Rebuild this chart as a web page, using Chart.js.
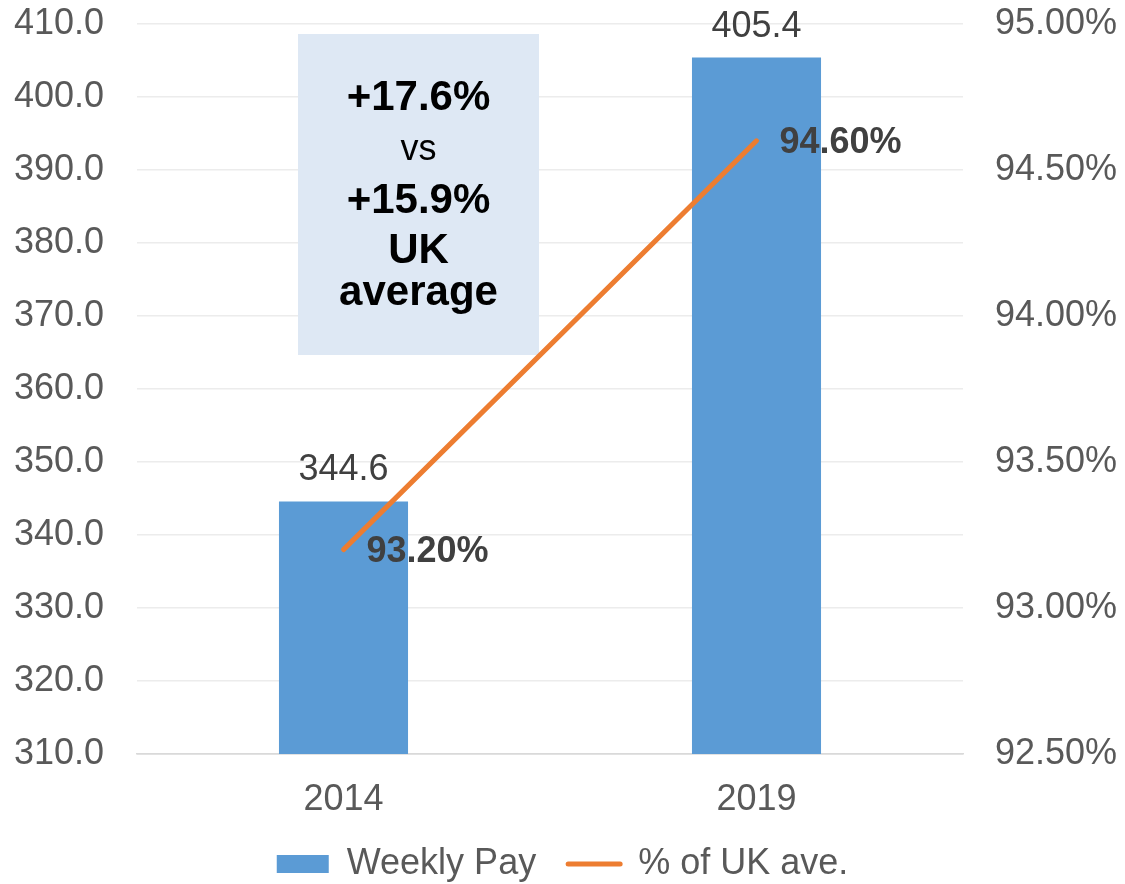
<!DOCTYPE html>
<html><head><meta charset="utf-8">
<script src="https://cdn.jsdelivr.net/npm/chart.js@4"></script>
<style>html,body{margin:0;padding:0;background:#fff;}</style>
</head><body>
<canvas id="c" width="1125" height="884" style="display:block;width:1125px;height:884px"></canvas>
<script>
const categories = ['2014', '2019'];
const weeklyPay = [344.6, 405.4];
const pctOfUK = [93.2, 94.6];
const seriesNames = ['Weekly Pay', '% of UK ave.'];
const calloutLines = ['+17.6%', 'vs', '+15.9%', 'UK', 'average'];

const FONT = "'Liberation Sans', Arial, Helvetica, sans-serif";

const labelPlugin = {
  id: 'customLabels',
  beforeLayout(chart) {
    const lg = chart.legend;
    if (lg && !lg._patchedFit) {
      const orig = lg.fit.bind(lg);
      lg.fit = function () { orig(); this.height = 70; };
      lg._patchedFit = true;
    }
  },
  beforeDatasetsDraw(chart) {
    const ctx = chart.ctx;
    ctx.save();
    ctx.fillStyle = '#DEE8F4';
    ctx.fillRect(298, 34, 241, 321);
    ctx.fillStyle = '#000000';
    ctx.textAlign = 'center';
    ctx.textBaseline = 'alphabetic';
    const specs = [[110, 'bold 42px'], [160, '36px'], [213, 'bold 42px'], [263, 'bold 42px'], [305, 'bold 42px']];
    calloutLines.forEach((t, i) => {
      ctx.font = specs[i][1] + ' ' + FONT;
      ctx.fillText(t, 418.5, specs[i][0]);
    });
    ctx.restore();
  },
  afterDatasetsDraw(chart) {
    const ctx = chart.ctx;
    ctx.save();
    const bars = chart.getDatasetMeta(0).data;
    ctx.font = '36px ' + FONT;
    ctx.fillStyle = '#404040';
    ctx.textAlign = 'center';
    ctx.textBaseline = 'middle';
    bars.forEach((b, i) => ctx.fillText(weeklyPay[i].toFixed(1), b.x, b.y - 31));
    const pts = chart.getDatasetMeta(1).data;
    ctx.font = 'bold 36px ' + FONT;
    ctx.textAlign = 'left';
    pts.forEach((p, i) => ctx.fillText(pctOfUK[i].toFixed(2) + '%', p.x + 23, p.y + 2));
    ctx.restore();
  }
};

function fixVertical(width) {
  return function (scale) {
    scale.width = width;
    scale.paddingTop = 0;
    scale.paddingBottom = 0;
  };
}

new Chart(document.getElementById('c'), {
  data: {
    labels: categories,
    datasets: [
      {
        type: 'bar',
        label: seriesNames[0],
        data: weeklyPay,
        backgroundColor: '#5B9BD5',
        borderWidth: 0,
        yAxisID: 'y',
        order: 1,
        categoryPercentage: 1,
        barPercentage: 0.3125,
        pointStyle: 'rect'
      },
      {
        type: 'line',
        label: seriesNames[1],
        data: pctOfUK,
        borderColor: '#ED7D31',
        backgroundColor: '#ED7D31',
        borderWidth: 5,
        borderCapStyle: 'round',
        pointRadius: 0,
        pointHoverRadius: 0,
        yAxisID: 'y1',
        order: 0,
        pointStyle: 'line'
      }
    ]
  },
  options: {
    responsive: false,
    animation: false,
    devicePixelRatio: 1,
    layout: { padding: { top: 24, bottom: 0, left: 0, right: 0 } },
    plugins: {
      tooltip: { enabled: false },
      legend: {
        position: 'bottom',
        labels: {
          usePointStyle: true,
          pointStyleWidth: 52,
          boxHeight: 18,
          padding: 32,
          color: '#595959',
          font: { size: 36, family: FONT },
          sort: (a, b) => a.datasetIndex - b.datasetIndex,
          generateLabels(chart) {
            const items = Chart.defaults.plugins.legend.labels.generateLabels(chart);
            items.forEach(it => {
              if (it.datasetIndex === 1) {
                it.pointStyle = 'line';
                it.lineCap = 'round';
                it.lineWidth = 5;
                it.strokeStyle = '#ED7D31';
              } else {
                it.pointStyle = 'rect';
                it.lineWidth = 0;
                it.fillStyle = '#5B9BD5';
              }
            });
            return items;
          }
        }
      }
    },
    scales: {
      x: {
        grid: { display: false, drawTicks: false },
        border: { display: true, color: '#D9D9D9', width: 1.5 },
        ticks: { color: '#595959', font: { size: 36, family: FONT }, padding: 24 },
        afterFit(scale) { scale.height = 60; }
      },
      y: {
        position: 'left',
        min: 310,
        max: 410,
        ticks: {
          stepSize: 10,
          color: '#595959',
          font: { size: 36, family: FONT },
          padding: 33,
          callback: v => Number(v).toFixed(1)
        },
        grid: {
          drawTicks: false,
          lineWidth: 1.5,
          color: ctx => (ctx.tick && ctx.tick.value === 310) ? '#D9D9D9' : '#ECECEC'
        },
        border: { display: false },
        afterFit: fixVertical(137)
      },
      y1: {
        position: 'right',
        min: 92.5,
        max: 95,
        ticks: {
          stepSize: 0.5,
          color: '#595959',
          font: { size: 36, family: FONT },
          padding: 32,
          callback: v => Number(v).toFixed(2) + '%'
        },
        grid: { display: false, drawTicks: false },
        border: { display: false },
        afterFit: fixVertical(162)
      }
    }
  },
  plugins: [labelPlugin]
});
</script>
</body></html>
